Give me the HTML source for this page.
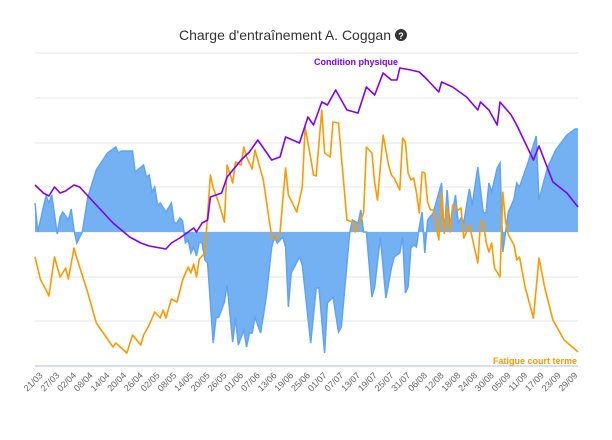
<!DOCTYPE html>
<html><head><meta charset="utf-8">
<style>
html,body{margin:0;padding:0;background:#fff;}
svg{display:block;font-family:"Liberation Sans",sans-serif;}
</style></head>
<body>
<svg id="chart" width="612" height="440" viewBox="0 0 612 440" xmlns="http://www.w3.org/2000/svg">
  <text x="391" y="40" text-anchor="end" font-size="14" fill="#333">Charge d'entraînement A. Coggan</text>
  <g>
    <circle cx="401" cy="35" r="6" fill="#333"/>
    <text x="401" y="39" text-anchor="middle" font-size="9" font-weight="bold" fill="#fff">?</text>
  </g>
  <g id="grid"></g>
  <g id="series"></g>
  <g id="xaxis"></g>
  <text x="356" y="65" text-anchor="middle" font-size="9" font-weight="bold" fill="#7f00ff">Condition physique</text>
  <text x="577" y="364" text-anchor="end" font-size="9" font-weight="bold" fill="#ff9900">Fatigue court terme</text>
</svg>
<script>
// ---- data (day offsets from 18/03, values in chart units) ----
const startDate = [2015, 2, 18];
const tickLabels = ["21/03","27/03","02/04","08/04","14/04","20/04","26/04","02/05","08/05","14/05","20/05","26/05","01/06","07/06","13/06","19/06","25/06","01/07","07/07","13/07","19/07","25/07","31/07","06/08","12/08","18/08","24/08","30/08","05/09","11/09","17/09","23/09","29/09"];
const tickDays = [3,9,15,21,27,33,39,45,51,57,63,69,75,81,87,93,99,105,111,117,123,129,135,141,147,153,159,165,171,177,183,189,195];
const fitnessDays = [0,3,5,7,9,11,14,16,28,34,38,41,45,47,49,52,55,57,58,60,62,63,67,69,74,77,80,85,88,90,95,98,100,103,105,108,112,116,119,122,125,128,130,131,135,138,141,145,146,150,155,159,160,163,166,167,171,173,179,181,186,191,195];
const fitnessValues = [47,39,36,45,39,41,47,45,9,-5,-11,-14,-16,-17,-11,-6,0,4,0,9,12,35,39,55,72,80,92,72,75,95,89,115,107,130,127,142,122,119,145,137,159,152,152,164,162,160,152,140,150,145,135,122,130,122,107,130,117,107,72,86,50,39,25];
const fatigueDays = [0,2,4,5,7,9,11,12,14,15,19,22,28,29,33,35,38,39,41,43,45,46,47,49,51,53,55,56,57,58,59,61,63,64,66,68,69,71,72,74,75,76,78,79,82,85,86,88,90,91,94,96,97,99,100,101,103,104,106,107,109,112,114,115,118,119,121,122,123,125,127,128,129,131,132,133,134,135,136,137,138,139,140,141,142,143,145,146,147,148,149,150,152,153,154,156,159,160,161,162,163,164,165,167,168,169,170,172,173,174,176,179,181,183,186,190,195];
const fatigueValues = [-25,-48,-58,-64,-25,-45,-36,-47,-16,-26,-61,-91,-115,-111,-121,-103,-113,-103,-93,-80,-86,-78,-86,-67,-70,-48,-35,-41,-32,-45,-27,-21,57,44,29,10,67,49,70,67,85,75,63,82,52,-5,-8,-1,64,37,20,45,105,74,57,56,122,79,75,110,109,12,10,0,19,85,79,49,32,97,67,57,54,42,94,90,59,52,54,39,19,60,59,30,22,22,-8,39,-1,25,0,27,22,24,-6,7,-31,10,10,-10,-20,-11,-36,-45,40,10,-3,-13,-28,-25,-55,-86,-26,-55,-88,-108,-120];
const formDays = [0,1,3,4,5,6,8,9,10,12,13,14,15,17,19,22,26,29,30,31,35,36,39,40,41,42,43,44,45,47,49,50,51,52,53,54,55,56,57,58,59,60,61,62,64,65,66,68,69,71,72,73,75,76,77,78,79,81,83,85,86,87,89,90,91,92,95,96,99,101,102,104,105,107,109,110,113,114,116,117,118,119,121,122,124,126,128,129,131,132,133,134,135,136,137,138,139,140,141,143,145,146,147,148,149,151,152,153,154,156,157,159,161,162,163,164,166,167,168,170,172,173,174,177,180,181,184,187,191,194,195];
const formValues = [29,0,25,36,29,37,-2,15,20,12,23,2,-11,0,35,62,79,85,79,81,81,60,67,55,57,40,45,27,29,20,29,9,9,14,11,-11,-8,-21,-15,-24,-10,-11,-28,-31,-111,-86,-85,-70,-53,-110,-86,-113,-98,-115,-101,-101,-85,-101,-66,-15,-5,-11,-5,-15,-75,-41,-25,-33,-111,-56,-56,-121,-71,-65,-100,-95,-1,12,9,22,0,0,-65,-55,-5,-66,-36,-25,-21,-5,-61,-55,-16,-13,-15,5,20,-21,12,19,39,49,-2,42,7,37,9,14,10,43,27,65,19,19,49,40,64,69,-20,20,33,49,45,69,96,32,64,82,97,103,103];

// ---- axes ----
const X0 = 35, X1 = 578, D0 = 0, D1 = 195;
const Y0 = 232, PX_PER_UNIT = 1;
function xScale(d){ return X0 + (d - D0) * (X1 - X0) / (D1 - D0); }
function yScale(v){ return Y0 - v * PX_PER_UNIT; }
const gridValues = [179,134,89,45,0,-45,-89];
const NS = "http://www.w3.org/2000/svg";
function mk(tag, attrs, parent){ const e = document.createElementNS(NS, tag); for (const k in attrs) e.setAttribute(k, attrs[k]); parent.appendChild(e); return e; }

const grid = document.getElementById('grid');
gridValues.forEach(v => {
  const l = mk('line', {x1:X0, x2:X1, y1:yScale(v), y2:yScale(v), stroke:'#e6e6e6', 'stroke-width':1}, grid);
  
  
});
const axisLine = mk('line', {x1:X0, x2:X1, y1:366, y2:366, stroke:'#ccd6eb', 'stroke-width':1.5}, grid);



const series = document.getElementById('series');
let dA = 'M' + xScale(formDays[0]) + ',' + yScale(0);
formDays.forEach((d, i) => { dA += ' L' + xScale(d).toFixed(1) + ',' + yScale(formValues[i]).toFixed(1); });
dA += ' L' + xScale(formDays[formDays.length-1]) + ',' + yScale(0) + ' Z';
const area = mk('path', {d:dA, fill:'#74b1f2', stroke:'none'}, series);


let dL = '';
formDays.forEach((d, i) => { dL += (i ? ' L' : 'M') + xScale(d).toFixed(1) + ',' + yScale(formValues[i]).toFixed(1); });
const areaLine = mk('path', {d:dL, fill:'none', stroke:'#5fa4f0', 'stroke-width':1.5}, series);



function line(days, vals, color, name){
  let d = '';
  days.forEach((x, i) => { d += (i ? ' L' : 'M') + xScale(x).toFixed(1) + ',' + yScale(vals[i]).toFixed(1); });
  const p = mk('path', {d:d, fill:'none', stroke:color, 'stroke-width':1.6, 'stroke-linejoin':'round'}, series);
  
  
}
line(fatigueDays, fatigueValues, '#ff9900', 'fatigue-line');
line(fitnessDays, fitnessValues, '#7f00ff', 'fitness-line');

const xaxis = document.getElementById('xaxis');
tickDays.forEach((d, i) => {
  const x = xScale(d);
  const t = mk('text', {x:x, y:376, 'text-anchor':'end', 'font-size':9, fill:'#666', transform:'rotate(-45 ' + x + ' 376)'}, xaxis);
  t.textContent = tickLabels[i];
  
  
});
</script>
</body></html>
